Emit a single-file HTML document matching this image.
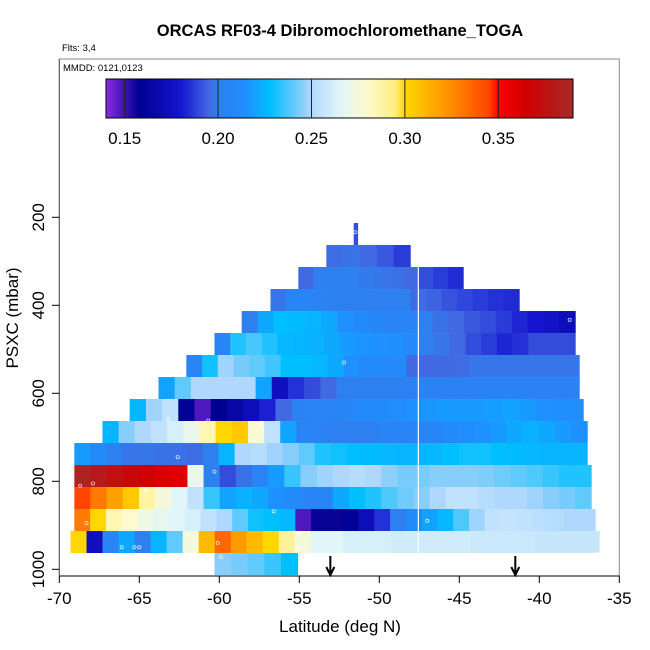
<!DOCTYPE html>
<html><head><meta charset="utf-8"><style>
body{margin:0;background:#fff;}
svg{display:block;font-family:"Liberation Sans",Arial,sans-serif;}
</style></head><body>
<svg id="chart" width="650" height="650" viewBox="0 0 650 650">
<rect width="650" height="650" fill="#fff"/>
<text x="340" y="36" text-anchor="middle" font-size="16.5" font-weight="bold">ORCAS RF03-4 Dibromochloromethane_TOGA</text>
<text x="62" y="51" font-size="9.5">Flts: 3,4</text>
<g id="cells"></g>
<g id="marks"></g>
<rect x="59.3" y="59" width="560" height="517" fill="none" stroke="#888" stroke-width="1"/>
<text x="63" y="71" font-size="9.5">MMDD: 0121,0123</text>
<g id="cbar"></g>
<g id="axes"></g>
<text x="340" y="632" text-anchor="middle" font-size="17">Latitude (deg N)</text>
<text transform="translate(18,318) rotate(-90)" text-anchor="middle" font-size="17">PSXC (mbar)</text>
</svg>
<script>
const rowPressures=[238,288,338,388,438,488,538,588,638,688,738,788,838,888,938,988];
const rowLatStart=[-51.6,-53.31,-55.06,-56.8,-58.6,-60.3,-62.06,-63.8,-65.6,-67.3,-69.06,-69.06,-69.06,-69.06,-69.3,-60.3];
const rowLatEnd=[-51.35,-48.06,-44.75,-41.25,-37.75,-37.75,-37.5,-37.5,-37.25,-37,-37,-36.75,-36.75,-36.5,-36.25,-55.1];
const rowValues=[
[0.19],
[0.196,0.197,0.195,0.192,0.187],
[0.195,0.2,0.2,0.2,0.199,0.198,0.197,0.195,0.19,0.187,0.184],
[0.198,0.205,0.205,0.203,0.2,0.2,0.2,0.2,0.2,0.196,0.194,0.191,0.189,0.187,0.185,0.184],
[0.2,0.222,0.228,0.227,0.225,0.222,0.215,0.21,0.207,0.205,0.205,0.2,0.197,0.195,0.192,0.19,0.187,0.183,0.18,0.177,0.173],
[0.205,0.232,0.237,0.232,0.226,0.225,0.224,0.222,0.218,0.216,0.215,0.214,0.21,0.2,0.198,0.195,0.19,0.187,0.183,0.185,0.19,0.19,0.19],
[0.205,0.23,0.248,0.243,0.24,0.236,0.228,0.228,0.226,0.222,0.215,0.21,0.21,0.21,0.195,0.195,0.195,0.196,0.198,0.198,0.198,0.198,0.198,0.198,0.198],
[0.22,0.24,0.25,0.25,0.25,0.25,0.22,0.175,0.185,0.19,0.195,0.2,0.2,0.2,0.2,0.201,0.203,0.203,0.203,0.203,0.203,0.203,0.203,0.203,0.203,0.203],
[0.225,0.248,0.255,0.16,0.148,0.158,0.165,0.172,0.182,0.195,0.203,0.205,0.205,0.207,0.21,0.21,0.212,0.215,0.217,0.218,0.218,0.218,0.219,0.22,0.218,0.215,0.213,0.213],
[0.225,0.245,0.25,0.255,0.262,0.27,0.285,0.3,0.305,0.278,0.255,0.22,0.205,0.203,0.2,0.2,0.2,0.205,0.205,0.205,0.207,0.21,0.212,0.215,0.218,0.222,0.224,0.222,0.218,0.215],
[0.218,0.21,0.2,0.198,0.198,0.197,0.197,0.196,0.2,0.225,0.25,0.252,0.248,0.245,0.24,0.232,0.23,0.228,0.227,0.226,0.225,0.225,0.226,0.228,0.23,0.23,0.228,0.227,0.226,0.225,0.225,0.225],
[0.385,0.38,0.375,0.37,0.366,0.362,0.36,0.27,0.2,0.19,0.197,0.205,0.218,0.235,0.245,0.248,0.25,0.252,0.25,0.246,0.243,0.243,0.245,0.245,0.245,0.244,0.242,0.24,0.238,0.235,0.232,0.232],
[0.345,0.33,0.318,0.305,0.288,0.275,0.265,0.255,0.235,0.22,0.224,0.222,0.215,0.21,0.205,0.205,0.222,0.228,0.232,0.238,0.242,0.245,0.25,0.255,0.255,0.252,0.25,0.25,0.248,0.245,0.243,0.24],
[0.33,0.3,0.285,0.28,0.272,0.268,0.265,0.262,0.255,0.25,0.24,0.23,0.228,0.226,0.148,0.157,0.157,0.16,0.172,0.185,0.2,0.21,0.22,0.226,0.238,0.248,0.255,0.256,0.255,0.253,0.252,0.25,0.25],
[0.3,0.175,0.205,0.222,0.2,0.225,0.24,0.275,0.31,0.335,0.32,0.31,0.3,0.29,0.275,0.265,0.265,0.262,0.262,0.262,0.26,0.26,0.26,0.26,0.26,0.258,0.258,0.258,0.258,0.257,0.257,0.257,0.257],
[0.245,0.243,0.24,0.235,0.228]
];
const xTicks=[-70,-65,-60,-55,-50,-45,-40,-35];
const yTicks=[200,400,600,800,1000];
const cbarTicks=[0.15,0.20,0.25,0.30,0.35];
const arrowLats=[-53.06,-41.5];
const dotLats=[-51.5,-38.1,-52.2,-62.6,-63.2,-60.7,-57.5,-60.3,-68.7,-64.6,-67.9,-69.2,-68.3,-56.6,-55.3,-55.0,-47.0,-36.4,-60.1,-59.9,-55.1,-66.1,-65.3,-65.0];
const dotPressures=[234,433,530,745,658,662,672,778,810,820,805,860,895,868,917,917,890,965,940,972,950,950,950,950];
const colorStops=[[0.14,"#8a2be2"],[0.158,"#000090"],[0.18,"#1515d0"],[0.195,"#4169e1"],[0.2,"#2e7ff0"],[0.215,"#1e90ff"],[0.228,"#00bfff"],[0.245,"#87cefa"],[0.25,"#b0d8ff"],[0.265,"#e0f6f8"],[0.28,"#fffacd"],[0.295,"#ffee80"],[0.3,"#ffd700"],[0.325,"#ff8c00"],[0.345,"#ff4500"],[0.35,"#ff0000"],[0.365,"#d00000"],[0.39,"#a52a2a"]];
const NS="http://www.w3.org/2000/svg";
function xS(lat){return 59.3+(lat+70)*16;}
function yS(p){return 217.3+(p-200)*0.44;}
function cS(v){return 106+(v-0.14)/0.25*467;}
function hex(c){return [1,3,5].map(i=>parseInt(c.substr(i,2),16));}
function color(v){
  if(v<=colorStops[0][0])return colorStops[0][1];
  for(let i=1;i<colorStops.length;i++){
    if(v<=colorStops[i][0]){
      const a=colorStops[i-1],b=colorStops[i],t=(v-a[0])/(b[0]-a[0]);
      const A=hex(a[1]),B=hex(b[1]);
      return "rgb("+A.map((x,j)=>Math.round(x+(B[j]-x)*t)).join(",")+")";
    }
  }
  return colorStops[colorStops.length-1][1];
}
function mk(tag,attrs,parent){const e=document.createElementNS(NS,tag);for(const k in attrs)e.setAttribute(k,attrs[k]);parent.appendChild(e);return e;}
const cells=document.getElementById("cells");
rowValues.forEach((vals,r)=>{
  const l0=rowLatStart[r],l1=rowLatEnd[r],w=(l1-l0)/vals.length;
  const yt=yS(rowPressures[r]-25),yb=yS(rowPressures[r]+25);
  vals.forEach((v,i)=>{
    const x0=xS(l0+i*w),x1=xS(l0+(i+1)*w);
    const e=mk("rect",{x:x0.toFixed(2),y:yt.toFixed(2),width:(x1-x0+0.4).toFixed(2),height:(yb-yt).toFixed(2),fill:color(v)},cells);
    
    
  });
});
const marks=document.getElementById("marks");
const vl=mk("line",{x1:xS(-47.56),x2:xS(-47.56),y1:yS(263),y2:yS(963),stroke:"#fff","stroke-width":1.2},marks);


dotLats.forEach((la,i)=>{
  const d=mk("circle",{cx:xS(la),cy:yS(dotPressures[i]),r:1.6,fill:"none",stroke:"#fff","stroke-width":0.8,opacity:0.8},marks);
  
  
});
arrowLats.forEach(la=>{
  const x=xS(la);
  const g=mk("path",{d:`M${x},556 L${x},575 M${x-4},567 L${x},575 L${x+4},567`,stroke:"#000","stroke-width":2,fill:"none"},marks);
  
  
});
const axes=document.getElementById("axes");
mk("line",{x1:59.3,x2:619.3,y1:576,y2:576,stroke:"#000","stroke-width":1},axes);
mk("line",{x1:59.3,x2:59.3,y1:59,y2:576,stroke:"#555","stroke-width":1},axes);
xTicks.forEach(t=>{
  const x=xS(t);
  mk("line",{x1:x,x2:x,y1:576,y2:583,stroke:"#000"},axes);
  const tx=mk("text",{x:x,y:604,"text-anchor":"middle","font-size":17},axes);
  tx.textContent=t;
  
  
});
yTicks.forEach(t=>{
  const y=yS(t);
  mk("line",{x1:52,x2:59.3,y1:y,y2:y,stroke:"#000"},axes);
  const tx=mk("text",{transform:`translate(44,${y}) rotate(-90)`,"text-anchor":"middle","font-size":17},axes);
  tx.textContent=t;
  
  
});
const cb=document.getElementById("cbar");
for(let i=0;i<233;i++){
  const v=0.14+i*(0.25/233);
  mk("rect",{x:(cS(v)).toFixed(2),y:79,width:2.4,height:39,fill:color(v+0.25/466)},cb);
}
mk("rect",{x:106,y:79,width:467,height:39,fill:"none",stroke:"#000","stroke-width":1},cb);
cbarTicks.forEach(t=>{
  const x=cS(t);
  mk("line",{x1:x,x2:x,y1:79,y2:118,stroke:"#222","stroke-width":1},cb);
  const tx=mk("text",{x:x,y:144,"text-anchor":"middle","font-size":17},cb);
  tx.textContent=t.toFixed(2);
  
  
});
</script>
</body></html>
